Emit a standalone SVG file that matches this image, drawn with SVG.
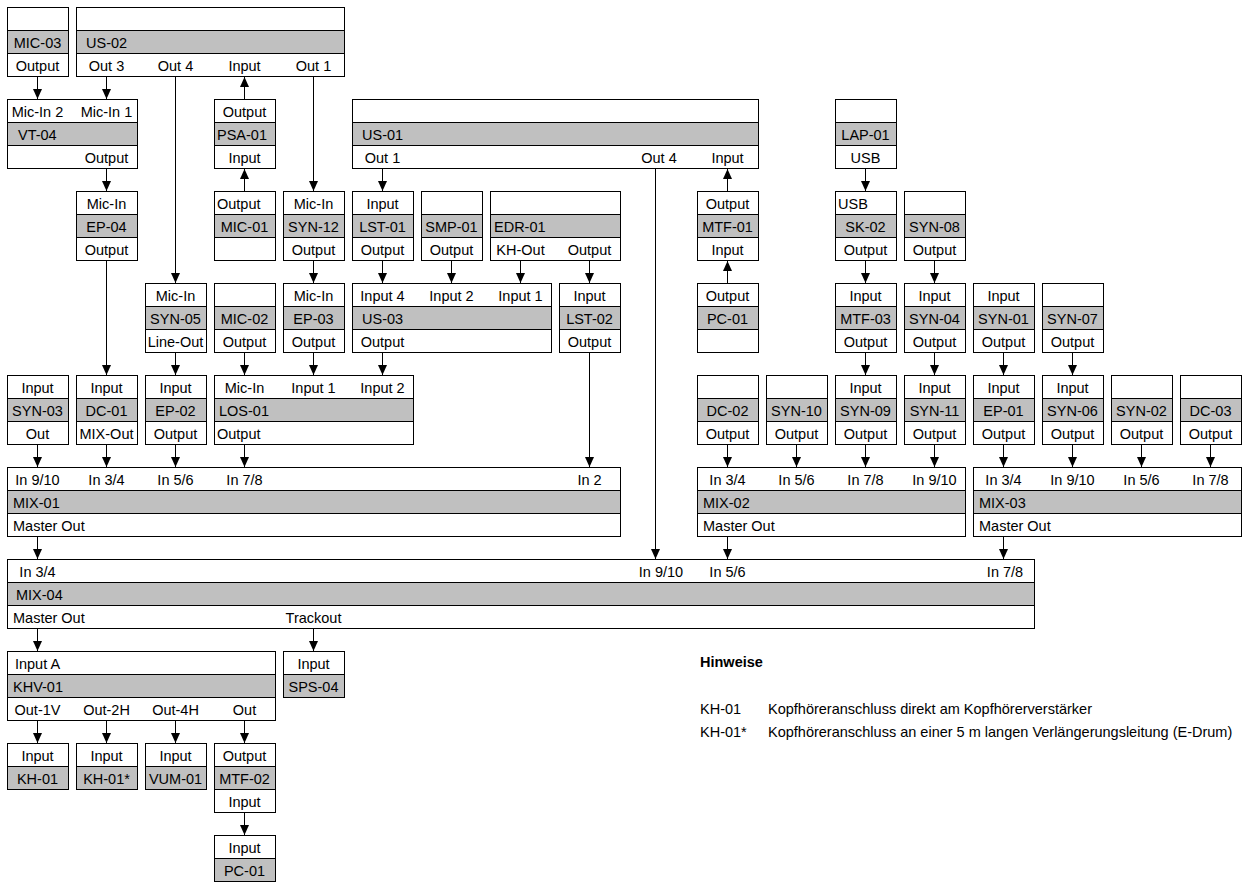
<svg xmlns="http://www.w3.org/2000/svg" width="1248" height="887" viewBox="0 0 1248 887">
<style>
.w{fill:#fff;stroke:#000;stroke-width:1}
.g{fill:#c0c0c0;stroke:#000;stroke-width:1}
text{font-family:"Liberation Sans",Arial,sans-serif;font-size:14.5px;fill:#000}
.c{text-anchor:middle}
.b{font-weight:bold}
#connectors line{stroke:#000;stroke-width:1;fill:none;marker-end:url(#ah)}
</style>
<defs>
<marker id="ah" markerUnits="userSpaceOnUse" markerWidth="10" markerHeight="10" refX="10" refY="4.5" orient="auto">
<path d="M0,0 L10,4.5 L0,9 z" fill="#000"/>
</marker>
</defs>
<rect x="0" y="0" width="1248" height="887" fill="#fff"/>

<!-- Row 0 -->
<g id="MIC-03">
<rect class="w" x="7.5" y="7.5" width="61" height="23"/><rect class="g" x="7.5" y="30.5" width="61" height="23"/><rect class="w" x="7.5" y="53.5" width="61" height="23"/>
<text class="c" x="37.5" y="47.5">MIC-03</text><text class="c" x="37.5" y="70.5">Output</text>
</g>
<g id="US-02">
<rect class="w" x="76.5" y="7.5" width="268" height="23"/><rect class="g" x="76.5" y="30.5" width="268" height="23"/><rect class="w" x="76.5" y="53.5" width="268" height="23"/>
<text x="86" y="47.5">US-02</text>
<text class="c" x="106.5" y="70.5">Out 3</text><text class="c" x="175.5" y="70.5">Out 4</text><text class="c" x="244.5" y="70.5">Input</text><text class="c" x="313.5" y="70.5">Out 1</text>
</g>

<!-- Row 1 -->
<g id="VT-04">
<rect class="w" x="7.5" y="99.5" width="130" height="23"/><rect class="g" x="7.5" y="122.5" width="130" height="23"/><rect class="w" x="7.5" y="145.5" width="130" height="23"/>
<text class="c" x="37.5" y="116.5">Mic-In 2</text><text class="c" x="106.5" y="116.5">Mic-In 1</text>
<text x="18" y="139.5">VT-04</text>
<text class="c" x="106.5" y="162.5">Output</text>
</g>
<g id="PSA-01">
<rect class="w" x="214.5" y="99.5" width="61" height="23"/><rect class="g" x="214.5" y="122.5" width="61" height="23"/><rect class="w" x="214.5" y="145.5" width="61" height="23"/>
<text class="c" x="244.5" y="116.5">Output</text><text x="217" y="139.5">PSA-01</text><text class="c" x="244.5" y="162.5">Input</text>
</g>
<g id="US-01">
<rect class="w" x="352.5" y="99.5" width="406" height="23"/><rect class="g" x="352.5" y="122.5" width="406" height="23"/><rect class="w" x="352.5" y="145.5" width="406" height="23"/>
<text x="362" y="139.5">US-01</text>
<text class="c" x="382.5" y="162.5">Out 1</text><text class="c" x="659" y="162.5">Out 4</text><text class="c" x="727.5" y="162.5">Input</text>
</g>
<g id="LAP-01">
<rect class="w" x="835.5" y="99.5" width="61" height="23"/><rect class="g" x="835.5" y="122.5" width="61" height="23"/><rect class="w" x="835.5" y="145.5" width="61" height="23"/>
<text class="c" x="865.5" y="139.5">LAP-01</text><text class="c" x="865.5" y="162.5">USB</text>
</g>

<!-- Row 2 -->
<g id="EP-04">
<rect class="w" x="76.5" y="191.5" width="61" height="23"/><rect class="g" x="76.5" y="214.5" width="61" height="23"/><rect class="w" x="76.5" y="237.5" width="61" height="23"/>
<text class="c" x="106.5" y="208.5">Mic-In</text><text class="c" x="106.5" y="231.5">EP-04</text><text class="c" x="106.5" y="254.5">Output</text>
</g>
<g id="MIC-01">
<rect class="w" x="214.5" y="191.5" width="61" height="23"/><rect class="g" x="214.5" y="214.5" width="61" height="23"/><rect class="w" x="214.5" y="237.5" width="61" height="23"/>
<text x="217" y="208.5">Output</text><text class="c" x="244.5" y="231.5">MIC-01</text>
</g>
<g id="SYN-12">
<rect class="w" x="283.5" y="191.5" width="61" height="23"/><rect class="g" x="283.5" y="214.5" width="61" height="23"/><rect class="w" x="283.5" y="237.5" width="61" height="23"/>
<text class="c" x="313.5" y="208.5">Mic-In</text><text class="c" x="313.5" y="231.5">SYN-12</text><text class="c" x="313.5" y="254.5">Output</text>
</g>
<g id="LST-01">
<rect class="w" x="352.5" y="191.5" width="61" height="23"/><rect class="g" x="352.5" y="214.5" width="61" height="23"/><rect class="w" x="352.5" y="237.5" width="61" height="23"/>
<text class="c" x="382.5" y="208.5">Input</text><text class="c" x="382.5" y="231.5">LST-01</text><text class="c" x="382.5" y="254.5">Output</text>
</g>
<g id="SMP-01">
<rect class="w" x="421.5" y="191.5" width="61" height="23"/><rect class="g" x="421.5" y="214.5" width="61" height="23"/><rect class="w" x="421.5" y="237.5" width="61" height="23"/>
<text class="c" x="451.5" y="231.5">SMP-01</text><text class="c" x="451.5" y="254.5">Output</text>
</g>
<g id="EDR-01">
<rect class="w" x="490.5" y="191.5" width="130" height="23"/><rect class="g" x="490.5" y="214.5" width="130" height="23"/><rect class="w" x="490.5" y="237.5" width="130" height="23"/>
<text x="494" y="231.5">EDR-01</text>
<text class="c" x="520.5" y="254.5">KH-Out</text><text class="c" x="589.5" y="254.5">Output</text>
</g>
<g id="MTF-01">
<rect class="w" x="697.5" y="191.5" width="61" height="23"/><rect class="g" x="697.5" y="214.5" width="61" height="23"/><rect class="w" x="697.5" y="237.5" width="61" height="23"/>
<text class="c" x="727.5" y="208.5">Output</text><text class="c" x="727.5" y="231.5">MTF-01</text><text class="c" x="727.5" y="254.5">Input</text>
</g>
<g id="SK-02">
<rect class="w" x="835.5" y="191.5" width="61" height="23"/><rect class="g" x="835.5" y="214.5" width="61" height="23"/><rect class="w" x="835.5" y="237.5" width="61" height="23"/>
<text x="838" y="208.5">USB</text><text class="c" x="865.5" y="231.5">SK-02</text><text class="c" x="865.5" y="254.5">Output</text>
</g>
<g id="SYN-08">
<rect class="w" x="904.5" y="191.5" width="61" height="23"/><rect class="g" x="904.5" y="214.5" width="61" height="23"/><rect class="w" x="904.5" y="237.5" width="61" height="23"/>
<text class="c" x="934.5" y="231.5">SYN-08</text><text class="c" x="934.5" y="254.5">Output</text>
</g>

<!-- Row 3 -->
<g id="SYN-05">
<rect class="w" x="145.5" y="283.5" width="61" height="23"/><rect class="g" x="145.5" y="306.5" width="61" height="23"/><rect class="w" x="145.5" y="329.5" width="61" height="23"/>
<text class="c" x="175.5" y="300.5">Mic-In</text><text class="c" x="175.5" y="323.5">SYN-05</text><text class="c" x="175.5" y="346.5">Line-Out</text>
</g>
<g id="MIC-02">
<rect class="w" x="214.5" y="283.5" width="61" height="23"/><rect class="g" x="214.5" y="306.5" width="61" height="23"/><rect class="w" x="214.5" y="329.5" width="61" height="23"/>
<text class="c" x="244.5" y="323.5">MIC-02</text><text class="c" x="244.5" y="346.5">Output</text>
</g>
<g id="EP-03">
<rect class="w" x="283.5" y="283.5" width="61" height="23"/><rect class="g" x="283.5" y="306.5" width="61" height="23"/><rect class="w" x="283.5" y="329.5" width="61" height="23"/>
<text class="c" x="313.5" y="300.5">Mic-In</text><text class="c" x="313.5" y="323.5">EP-03</text><text class="c" x="313.5" y="346.5">Output</text>
</g>
<g id="US-03">
<rect class="w" x="352.5" y="283.5" width="199" height="23"/><rect class="g" x="352.5" y="306.5" width="199" height="23"/><rect class="w" x="352.5" y="329.5" width="199" height="23"/>
<text class="c" x="382.5" y="300.5">Input 4</text><text class="c" x="451.5" y="300.5">Input 2</text><text class="c" x="520.5" y="300.5">Input 1</text>
<text x="362" y="323.5">US-03</text>
<text class="c" x="382.5" y="346.5">Output</text>
</g>
<g id="LST-02">
<rect class="w" x="559.5" y="283.5" width="61" height="23"/><rect class="g" x="559.5" y="306.5" width="61" height="23"/><rect class="w" x="559.5" y="329.5" width="61" height="23"/>
<text class="c" x="589.5" y="300.5">Input</text><text class="c" x="589.5" y="323.5">LST-02</text><text class="c" x="589.5" y="346.5">Output</text>
</g>
<g id="PC-01-a">
<rect class="w" x="697.5" y="283.5" width="61" height="23"/><rect class="g" x="697.5" y="306.5" width="61" height="23"/><rect class="w" x="697.5" y="329.5" width="61" height="23"/>
<text class="c" x="727.5" y="300.5">Output</text><text class="c" x="727.5" y="323.5">PC-01</text>
</g>
<g id="MTF-03">
<rect class="w" x="835.5" y="283.5" width="61" height="23"/><rect class="g" x="835.5" y="306.5" width="61" height="23"/><rect class="w" x="835.5" y="329.5" width="61" height="23"/>
<text class="c" x="865.5" y="300.5">Input</text><text class="c" x="865.5" y="323.5">MTF-03</text><text class="c" x="865.5" y="346.5">Output</text>
</g>
<g id="SYN-04">
<rect class="w" x="904.5" y="283.5" width="61" height="23"/><rect class="g" x="904.5" y="306.5" width="61" height="23"/><rect class="w" x="904.5" y="329.5" width="61" height="23"/>
<text class="c" x="934.5" y="300.5">Input</text><text class="c" x="934.5" y="323.5">SYN-04</text><text class="c" x="934.5" y="346.5">Output</text>
</g>
<g id="SYN-01">
<rect class="w" x="973.5" y="283.5" width="61" height="23"/><rect class="g" x="973.5" y="306.5" width="61" height="23"/><rect class="w" x="973.5" y="329.5" width="61" height="23"/>
<text class="c" x="1003.5" y="300.5">Input</text><text class="c" x="1003.5" y="323.5">SYN-01</text><text class="c" x="1003.5" y="346.5">Output</text>
</g>
<g id="SYN-07">
<rect class="w" x="1042.5" y="283.5" width="61" height="23"/><rect class="g" x="1042.5" y="306.5" width="61" height="23"/><rect class="w" x="1042.5" y="329.5" width="61" height="23"/>
<text class="c" x="1072.5" y="323.5">SYN-07</text><text class="c" x="1072.5" y="346.5">Output</text>
</g>

<!-- Row 4 -->
<g id="SYN-03">
<rect class="w" x="7.5" y="375.5" width="61" height="23"/><rect class="g" x="7.5" y="398.5" width="61" height="23"/><rect class="w" x="7.5" y="421.5" width="61" height="23"/>
<text class="c" x="37.5" y="392.5">Input</text><text class="c" x="37.5" y="415.5">SYN-03</text><text class="c" x="37.5" y="438.5">Out</text>
</g>
<g id="DC-01">
<rect class="w" x="76.5" y="375.5" width="61" height="23"/><rect class="g" x="76.5" y="398.5" width="61" height="23"/><rect class="w" x="76.5" y="421.5" width="61" height="23"/>
<text class="c" x="106.5" y="392.5">Input</text><text class="c" x="106.5" y="415.5">DC-01</text><text class="c" x="106.5" y="438.5">MIX-Out</text>
</g>
<g id="EP-02">
<rect class="w" x="145.5" y="375.5" width="61" height="23"/><rect class="g" x="145.5" y="398.5" width="61" height="23"/><rect class="w" x="145.5" y="421.5" width="61" height="23"/>
<text class="c" x="175.5" y="392.5">Input</text><text class="c" x="175.5" y="415.5">EP-02</text><text class="c" x="175.5" y="438.5">Output</text>
</g>
<g id="LOS-01">
<rect class="w" x="214.5" y="375.5" width="199" height="23"/><rect class="g" x="214.5" y="398.5" width="199" height="23"/><rect class="w" x="214.5" y="421.5" width="199" height="23"/>
<text class="c" x="244.5" y="392.5">Mic-In</text><text class="c" x="313.5" y="392.5">Input 1</text><text class="c" x="382.5" y="392.5">Input 2</text>
<text x="219" y="415.5">LOS-01</text>
<text x="217" y="438.5">Output</text>
</g>
<g id="DC-02">
<rect class="w" x="697.5" y="375.5" width="61" height="23"/><rect class="g" x="697.5" y="398.5" width="61" height="23"/><rect class="w" x="697.5" y="421.5" width="61" height="23"/>
<text class="c" x="727.5" y="415.5">DC-02</text><text class="c" x="727.5" y="438.5">Output</text>
</g>
<g id="SYN-10">
<rect class="w" x="766.5" y="375.5" width="61" height="23"/><rect class="g" x="766.5" y="398.5" width="61" height="23"/><rect class="w" x="766.5" y="421.5" width="61" height="23"/>
<text class="c" x="796.5" y="415.5">SYN-10</text><text class="c" x="796.5" y="438.5">Output</text>
</g>
<g id="SYN-09">
<rect class="w" x="835.5" y="375.5" width="61" height="23"/><rect class="g" x="835.5" y="398.5" width="61" height="23"/><rect class="w" x="835.5" y="421.5" width="61" height="23"/>
<text class="c" x="865.5" y="392.5">Input</text><text class="c" x="865.5" y="415.5">SYN-09</text><text class="c" x="865.5" y="438.5">Output</text>
</g>
<g id="SYN-11">
<rect class="w" x="904.5" y="375.5" width="61" height="23"/><rect class="g" x="904.5" y="398.5" width="61" height="23"/><rect class="w" x="904.5" y="421.5" width="61" height="23"/>
<text class="c" x="934.5" y="392.5">Input</text><text class="c" x="934.5" y="415.5">SYN-11</text><text class="c" x="934.5" y="438.5">Output</text>
</g>
<g id="EP-01">
<rect class="w" x="973.5" y="375.5" width="61" height="23"/><rect class="g" x="973.5" y="398.5" width="61" height="23"/><rect class="w" x="973.5" y="421.5" width="61" height="23"/>
<text class="c" x="1003.5" y="392.5">Input</text><text class="c" x="1003.5" y="415.5">EP-01</text><text class="c" x="1003.5" y="438.5">Output</text>
</g>
<g id="SYN-06">
<rect class="w" x="1042.5" y="375.5" width="61" height="23"/><rect class="g" x="1042.5" y="398.5" width="61" height="23"/><rect class="w" x="1042.5" y="421.5" width="61" height="23"/>
<text class="c" x="1072.5" y="392.5">Input</text><text class="c" x="1072.5" y="415.5">SYN-06</text><text class="c" x="1072.5" y="438.5">Output</text>
</g>
<g id="SYN-02">
<rect class="w" x="1111.5" y="375.5" width="61" height="23"/><rect class="g" x="1111.5" y="398.5" width="61" height="23"/><rect class="w" x="1111.5" y="421.5" width="61" height="23"/>
<text class="c" x="1141.5" y="415.5">SYN-02</text><text class="c" x="1141.5" y="438.5">Output</text>
</g>
<g id="DC-03">
<rect class="w" x="1180.5" y="375.5" width="61" height="23"/><rect class="g" x="1180.5" y="398.5" width="61" height="23"/><rect class="w" x="1180.5" y="421.5" width="61" height="23"/>
<text class="c" x="1210.5" y="415.5">DC-03</text><text class="c" x="1210.5" y="438.5">Output</text>
</g>

<!-- Row 5 -->
<g id="MIX-01">
<rect class="w" x="7.5" y="467.5" width="613" height="23"/><rect class="g" x="7.5" y="490.5" width="613" height="23"/><rect class="w" x="7.5" y="513.5" width="613" height="23"/>
<text class="c" x="37.5" y="484.5">In 9/10</text><text class="c" x="106.5" y="484.5">In 3/4</text><text class="c" x="175.5" y="484.5">In 5/6</text><text class="c" x="244.5" y="484.5">In 7/8</text><text class="c" x="589.5" y="484.5">In 2</text>
<text x="13" y="507.5">MIX-01</text>
<text x="13" y="530.5">Master Out</text>
</g>
<g id="MIX-02">
<rect class="w" x="697.5" y="467.5" width="268" height="23"/><rect class="g" x="697.5" y="490.5" width="268" height="23"/><rect class="w" x="697.5" y="513.5" width="268" height="23"/>
<text class="c" x="727.5" y="484.5">In 3/4</text><text class="c" x="796.5" y="484.5">In 5/6</text><text class="c" x="865.5" y="484.5">In 7/8</text><text class="c" x="934.5" y="484.5">In 9/10</text>
<text x="703" y="507.5">MIX-02</text>
<text x="703" y="530.5">Master Out</text>
</g>
<g id="MIX-03">
<rect class="w" x="973.5" y="467.5" width="268" height="23"/><rect class="g" x="973.5" y="490.5" width="268" height="23"/><rect class="w" x="973.5" y="513.5" width="268" height="23"/>
<text class="c" x="1003.5" y="484.5">In 3/4</text><text class="c" x="1072.5" y="484.5">In 9/10</text><text class="c" x="1141.5" y="484.5">In 5/6</text><text class="c" x="1210.5" y="484.5">In 7/8</text>
<text x="979" y="507.5">MIX-03</text>
<text x="979" y="530.5">Master Out</text>
</g>

<!-- Row 6 -->
<g id="MIX-04">
<rect class="w" x="7.5" y="559.5" width="1027" height="23"/><rect class="g" x="7.5" y="582.5" width="1027" height="23"/><rect class="w" x="7.5" y="605.5" width="1027" height="23"/>
<text class="c" x="37.5" y="576.5">In 3/4</text><text class="c" x="661" y="576.5">In 9/10</text><text class="c" x="727.5" y="576.5">In 5/6</text><text class="c" x="1005" y="576.5">In 7/8</text>
<text x="16" y="599.5">MIX-04</text>
<text x="13" y="622.5">Master Out</text><text class="c" x="313.5" y="622.5">Trackout</text>
</g>

<!-- Row 7 -->
<g id="KHV-01">
<rect class="w" x="7.5" y="651.5" width="268" height="23"/><rect class="g" x="7.5" y="674.5" width="268" height="23"/><rect class="w" x="7.5" y="697.5" width="268" height="23"/>
<text class="c" x="37.5" y="668.5">Input A</text>
<text x="13" y="691.5">KHV-01</text>
<text class="c" x="37.5" y="714.5">Out-1V</text><text class="c" x="106.5" y="714.5">Out-2H</text><text class="c" x="175.5" y="714.5">Out-4H</text><text class="c" x="244.5" y="714.5">Out</text>
</g>
<g id="SPS-04">
<rect class="w" x="283.5" y="651.5" width="61" height="23"/><rect class="g" x="283.5" y="674.5" width="61" height="23"/>
<text class="c" x="313.5" y="668.5">Input</text><text class="c" x="313.5" y="691.5">SPS-04</text>
</g>

<!-- Row 8 -->
<g id="KH-01">
<rect class="w" x="7.5" y="743.5" width="61" height="23"/><rect class="g" x="7.5" y="766.5" width="61" height="23"/>
<text class="c" x="37.5" y="760.5">Input</text><text class="c" x="37.5" y="783.5">KH-01</text>
</g>
<g id="KH-01s">
<rect class="w" x="76.5" y="743.5" width="61" height="23"/><rect class="g" x="76.5" y="766.5" width="61" height="23"/>
<text class="c" x="106.5" y="760.5">Input</text><text class="c" x="106.5" y="783.5">KH-01*</text>
</g>
<g id="VUM-01">
<rect class="w" x="145.5" y="743.5" width="61" height="23"/><rect class="g" x="145.5" y="766.5" width="61" height="23"/>
<text class="c" x="175.5" y="760.5">Input</text><text class="c" x="175.5" y="783.5">VUM-01</text>
</g>
<g id="MTF-02">
<rect class="w" x="214.5" y="743.5" width="61" height="23"/><rect class="g" x="214.5" y="766.5" width="61" height="23"/><rect class="w" x="214.5" y="789.5" width="61" height="23"/>
<text class="c" x="244.5" y="760.5">Output</text><text class="c" x="244.5" y="783.5">MTF-02</text><text class="c" x="244.5" y="806.5">Input</text>
</g>

<!-- Row 9 -->
<g id="PC-01-b">
<rect class="w" x="214.5" y="835.5" width="61" height="23"/><rect class="g" x="214.5" y="858.5" width="61" height="23"/>
<text class="c" x="244.5" y="852.5">Input</text><text class="c" x="244.5" y="875.5">PC-01</text>
</g>

<!-- Notes -->
<g id="notes">
<text class="b" x="700" y="667">Hinweise</text>
<text x="700" y="714">KH-01</text><text x="768" y="714">Kopfhöreranschluss direkt am Kopfhörerverstärker</text>
<text x="700" y="737">KH-01*</text><text x="768" y="737">Kopfhöreranschluss an einer 5 m langen Verlängerungsleitung (E-Drum)</text>
</g>

<g id="connectors">
<line x1="37.5" y1="76.5" x2="37.5" y2="99"/>
<line x1="106.5" y1="76.5" x2="106.5" y2="99"/>
<line x1="175.5" y1="76.5" x2="175.5" y2="283"/>
<line x1="244.5" y1="99" x2="244.5" y2="77"/>
<line x1="313.5" y1="76.5" x2="313.5" y2="191"/>
<line x1="106.5" y1="168.5" x2="106.5" y2="191"/>
<line x1="244.5" y1="191" x2="244.5" y2="169"/>
<line x1="382.5" y1="168.5" x2="382.5" y2="191"/>
<line x1="655.5" y1="168.5" x2="655.5" y2="559"/>
<line x1="727.5" y1="191" x2="727.5" y2="169"/>
<line x1="865.5" y1="168.5" x2="865.5" y2="191"/>
<line x1="106.5" y1="260.5" x2="106.5" y2="375"/>
<line x1="313.5" y1="260.5" x2="313.5" y2="283"/>
<line x1="382.5" y1="260.5" x2="382.5" y2="283"/>
<line x1="451.5" y1="260.5" x2="451.5" y2="283"/>
<line x1="520.5" y1="260.5" x2="520.5" y2="283"/>
<line x1="589.5" y1="260.5" x2="589.5" y2="283"/>
<line x1="727.5" y1="283" x2="727.5" y2="261"/>
<line x1="865.5" y1="260.5" x2="865.5" y2="283"/>
<line x1="934.5" y1="260.5" x2="934.5" y2="283"/>
<line x1="175.5" y1="352.5" x2="175.5" y2="375"/>
<line x1="244.5" y1="352.5" x2="244.5" y2="375"/>
<line x1="313.5" y1="352.5" x2="313.5" y2="375"/>
<line x1="382.5" y1="352.5" x2="382.5" y2="375"/>
<line x1="589.5" y1="352.5" x2="589.5" y2="467"/>
<line x1="865.5" y1="352.5" x2="865.5" y2="375"/>
<line x1="934.5" y1="352.5" x2="934.5" y2="375"/>
<line x1="1003.5" y1="352.5" x2="1003.5" y2="375"/>
<line x1="1072.5" y1="352.5" x2="1072.5" y2="375"/>
<line x1="37.5" y1="444.5" x2="37.5" y2="467"/>
<line x1="106.5" y1="444.5" x2="106.5" y2="467"/>
<line x1="175.5" y1="444.5" x2="175.5" y2="467"/>
<line x1="244.5" y1="444.5" x2="244.5" y2="467"/>
<line x1="727.5" y1="444.5" x2="727.5" y2="467"/>
<line x1="796.5" y1="444.5" x2="796.5" y2="467"/>
<line x1="865.5" y1="444.5" x2="865.5" y2="467"/>
<line x1="934.5" y1="444.5" x2="934.5" y2="467"/>
<line x1="1003.5" y1="444.5" x2="1003.5" y2="467"/>
<line x1="1072.5" y1="444.5" x2="1072.5" y2="467"/>
<line x1="1141.5" y1="444.5" x2="1141.5" y2="467"/>
<line x1="1210.5" y1="444.5" x2="1210.5" y2="467"/>
<line x1="37.5" y1="536.5" x2="37.5" y2="559"/>
<line x1="727.5" y1="536.5" x2="727.5" y2="559"/>
<line x1="1003.5" y1="536.5" x2="1003.5" y2="559"/>
<line x1="37.5" y1="628.5" x2="37.5" y2="651"/>
<line x1="313.5" y1="628.5" x2="313.5" y2="651"/>
<line x1="37.5" y1="720.5" x2="37.5" y2="743"/>
<line x1="106.5" y1="720.5" x2="106.5" y2="743"/>
<line x1="175.5" y1="720.5" x2="175.5" y2="743"/>
<line x1="244.5" y1="720.5" x2="244.5" y2="743"/>
<line x1="244.5" y1="812.5" x2="244.5" y2="835"/>
</g>
</svg>
